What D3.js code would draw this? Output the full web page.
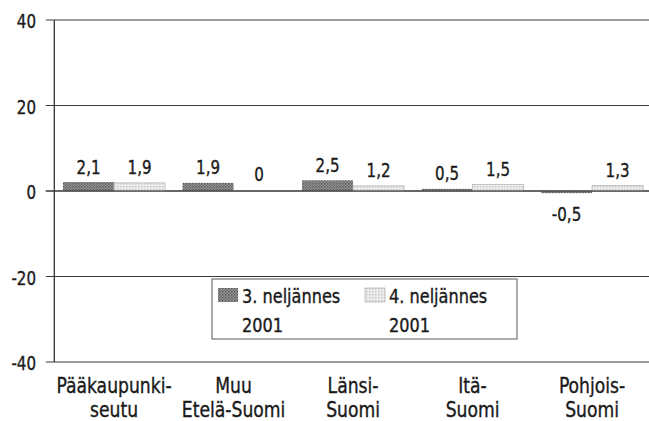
<!DOCTYPE html>
<html><head><meta charset="utf-8">
<script src="https://cdn.jsdelivr.net/npm/d3@7"></script>
<style>
body{margin:0;background:#fff;}
text{font-family:"DejaVu Sans Condensed","Liberation Sans Narrow",sans-serif;fill:#1a1a1a;stroke:#1a1a1a;stroke-width:0.35;}
</style></head>
<body><svg id="c" width="649" height="421"></svg>
<script>
const categories = [["Pääkaupunki-","seutu"],["Muu","Etelä-Suomi"],["Länsi-","Suomi"],["Itä-","Suomi"],["Pohjois-","Suomi"]];
const q3 = [2.1, 1.9, 2.5, 0.5, -0.5];
const q4 = [1.9, 0, 1.2, 1.5, 1.3];
const q3Labels = ["2,1","1,9","2,5","0,5","-0,5"];
const q4Labels = ["1,9","0","1,2","1,5","1,3"];
const yTicks = [40, 20, 0, -20, -40];
const seriesNames = [["3. neljännes","2001"],["4. neljännes","2001"]];

(function(){
const svg = d3.select("#c");
const defs = svg.append("defs");
const pd = defs.append("pattern").attr("id","pd").attr("width",3).attr("height",3).attr("patternUnits","userSpaceOnUse");
pd.append("rect").attr("width",3).attr("height",3).attr("fill","#9a9a9a");
pd.append("rect").attr("width",1.5).attr("height",1.5).attr("fill","#555");
pd.append("rect").attr("x",1.5).attr("y",1.5).attr("width",1.5).attr("height",1.5).attr("fill","#6a6a6a");
const pl = defs.append("pattern").attr("id","pl").attr("width",3).attr("height",3).attr("patternUnits","userSpaceOnUse");
pl.append("rect").attr("width",3).attr("height",3).attr("fill","#ececec");
pl.append("rect").attr("width",1.5).attr("height",1.5).attr("fill","#c8c8c8");

const mLeft = 54.3, mRight = 651.8, mTop = 20, mBottom = 362;
const y = d3.scaleLinear().domain([-40, 40]).range([mBottom, mTop]);
const x = d3.scaleBand().domain(d3.range(categories.length)).range([mLeft, mRight]).paddingInner(0.146).paddingOuter(0.073);
const xs = d3.scaleBand().domain([0,1]).range([0, x.bandwidth()]);

function stxt(g, tx, ty, str, size, sx, anchor){
  return g.append("text").attr("transform",`translate(${tx},${ty}) scale(${sx},1)`)
    .attr("text-anchor",anchor).attr("font-size",size).text(str);
}

svg.append("g").selectAll("line").data(yTicks).join("line")
  .attr("x1", mLeft-8.5).attr("x2", 649).attr("y1", d=>y(d)).attr("y2", d=>y(d))
  .attr("stroke","#3a3a3a").attr("stroke-width",1.2);
svg.append("line").attr("x1",mLeft).attr("x2",mLeft).attr("y1",mTop).attr("y2",mBottom).attr("stroke","#333").attr("stroke-width",1.3);
const yl = svg.append("g");
yTicks.forEach(t=>stxt(yl, 36, y(t)+8, String(t), 19.5, 0.86, "end"));

function bars(vals, idx, fill){
  svg.append("g").selectAll("rect").data(vals).join("rect")
    .attr("x",(d,i)=>x(i)+xs(idx)).attr("width",xs.bandwidth())
    .attr("y",d=>y(Math.max(0,d))).attr("height",d=>Math.abs(y(d)-y(0)))
    .attr("fill",fill).attr("stroke", idx===1?"#b0b0b0":"none").attr("stroke-width",0.7);
}
bars(q3,0,"url(#pd)");
bars(q4,1,"url(#pl)");
const vl = svg.append("g");
function labels(vals, labs, idx){
  vals.forEach((d,i)=>{
    const cx = x(i)+xs(idx)+xs.bandwidth()/2;
    const by = d>0 ? y(d)-8.5 : (d<0 ? y(0)+30 : y(0)-10);
    stxt(vl, cx, by, labs[i], 19.5, 0.86, "middle");
  });
}
labels(q3,q3Labels,0);
labels(q4,q4Labels,1);
svg.append("line").attr("x1",mLeft-8.5).attr("x2",649).attr("y1",y(0)).attr("y2",y(0)).attr("stroke","#333").attr("stroke-width",1.2);

const cl = svg.append("g");
categories.forEach((c,i)=>{
  c.forEach((s,j)=> stxt(cl, x(i)+x.bandwidth()/2, 393+j*23.5, s, 21, 0.91, "middle"));
});

const lg = svg.append("g");
lg.append("rect").attr("x",212).attr("y",279).attr("width",305).attr("height",60).attr("fill","#fff").attr("stroke","#666").attr("stroke-width",1.1);
const lx = [218, 365];
seriesNames.forEach((s,i)=>{
  lg.append("rect").attr("x",lx[i]).attr("y",288).attr("width",20).attr("height",14)
    .attr("fill", i===0?"url(#pd)":"url(#pl)").attr("stroke", i===1?"#b0b0b0":"none").attr("stroke-width",0.7);
  stxt(lg, lx[i]+24, 303, s[0], 19.5, 0.92, "start");
  stxt(lg, lx[i]+24, 332, s[1], 19.5, 0.92, "start");
});
})();
</script></body></html>
